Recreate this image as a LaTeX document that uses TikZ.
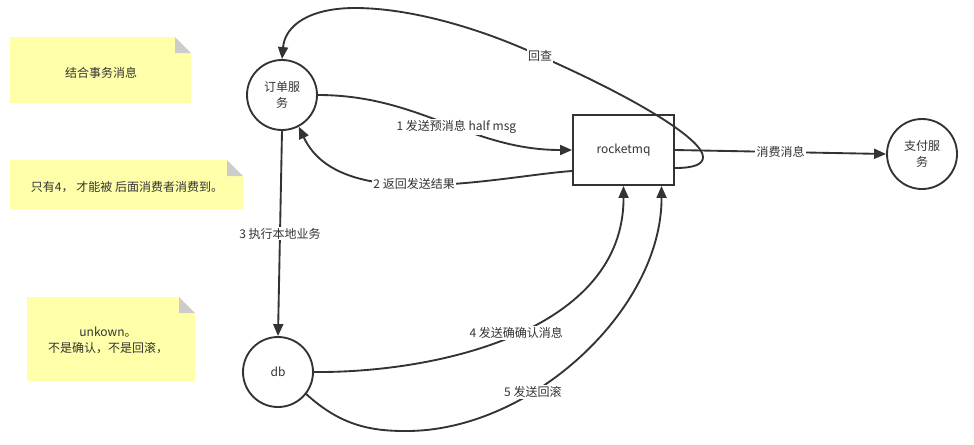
\documentclass[tikz,border=0pt]{standalone}
\usepackage{fontspec}
\setmainfont{Noto Sans CJK SC}
\usetikzlibrary{arrows.meta,calc}
\definecolor{ink}{HTML}{333333}
\definecolor{notey}{HTML}{FFFFAA}
\definecolor{noteg}{HTML}{CCCCCC}
\begin{document}
\begin{tikzpicture}[x=0.75pt,y=-0.75pt,
      every node/.style={font=\fontsize{9}{12}\selectfont,text=ink},
      svc/.style={circle,draw=ink,line width=1.4pt,fill=white,minimum size=52.5pt,inner sep=0pt,align=center},
      mqbox/.style={rectangle,draw=ink,line width=1.4pt,fill=white,minimum width=75.75pt,minimum height=52.5pt},
      flow/.style={draw=ink,line width=1.4pt,-{Triangle[length=9pt,width=7.5pt]}},
      lbl/.style={fill=white,inner sep=1pt},
      notebg/.style={fill=notey},
      notefold/.style={fill=noteg}]
      \useasboundingbox (0,0) rectangle (974,444);
      \fill[notebg] (10,37) -- (175,37) -- (191,53) -- (191,103) -- (10,103) -- cycle;
      \fill[notefold] (175,37) -- (175,53) -- (191,53) -- cycle;
      \fill[notebg] (10,160) -- (227,160) -- (243,176) -- (243,209) -- (10,209) -- cycle;
      \fill[notefold] (227,160) -- (227,176) -- (243,176) -- cycle;
      \fill[notebg] (27,297) -- (179,297) -- (195,313) -- (195,381) -- (27,381) -- cycle;
      \fill[notefold] (179,297) -- (179,313) -- (195,313) -- cycle;
      \node (note1) at (101,73) {结合事务消息};
      \node (note2) at (127,187) {只有4， 才能被 后面消费者消费到。};
      \node[align=center] (note3) at (108,340) {unkown。\\不是确认，不是回滚，};
      \node[svc] (order) at (282,95) {订单服\\务};
      \node[svc] (db) at (278,372) {db};
      \node[svc] (pay) at (922,154) {支付服\\务};
      \node[mqbox] (mq) at (623.5,150) {rocketmq};
      \draw[flow] (order.east) .. controls (420,95) and (470,150) .. (mq.west) node[lbl,pos=0.55] {1 发送预消息 half msg};
      \draw[flow] ($(mq.west)+(0,21)$) .. controls (500,176) and (340,215) .. (order.-62) node[lbl,pos=0.53] {2 返回发送结果};
      \draw[flow] (order.south) -- (db.north) node[lbl,midway] {3 执行本地业务};
      \draw[flow] (db.east) .. controls (440,373) and (624,330) .. (mq.south) node[lbl,pos=0.5] {4 发送确确认消息};
      \draw[flow] (db.-38) .. controls (340,425) and (370,431) .. (405,431) .. controls (530,432) and (662,310) .. ($(mq.south)+(38,0)$) node[lbl,pos=0.35] {5 发送回滚};
      \draw[flow] (mq.east) -- (pay.west) node[lbl,midway] {消费消息};
      \draw[flow] ($(mq.east)+(0,18)$) .. controls (695,168) and (703,164) .. (703,157) .. controls (703,140) and (640,100) .. (540,56) node[lbl] {回查} .. controls (480,28) and (410,8) .. (355,8) .. controls (310,8) and (285,25) .. (order.north);
    \end{tikzpicture}
\end{document}
